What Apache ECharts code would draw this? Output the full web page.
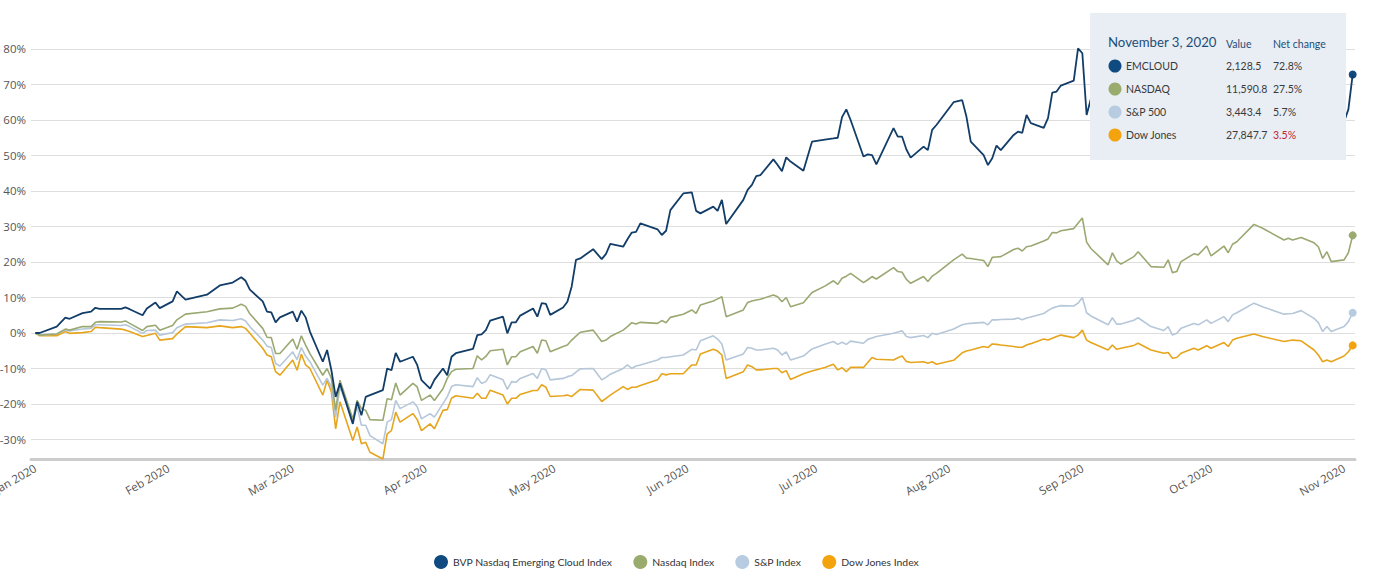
<!DOCTYPE html>
<html><head><meta charset="utf-8">
<script src="https://cdn.jsdelivr.net/npm/echarts@6/dist/echarts.min.js"></script>
<style>html,body{margin:0;padding:0;background:#fff}#c{width:1400px;height:578px}</style>
</head><body><div id="c"></div>
<script>
// ---- data (percent change since start of 2020) ----
const dates = [
'2020-01-01','2020-01-02','2020-01-06','2020-01-08','2020-01-09','2020-01-12','2020-01-14','2020-01-15','2020-01-16','2020-01-21','2020-01-22','2020-01-23','2020-01-26','2020-01-27','2020-01-29','2020-01-30',
'2020-02-02','2020-02-03','2020-02-05','2020-02-10','2020-02-13','2020-02-16','2020-02-18','2020-02-19','2020-02-20','2020-02-23','2020-02-24','2020-02-25','2020-02-26','2020-02-27',
'2020-03-01','2020-03-02','2020-03-03','2020-03-04','2020-03-05','2020-03-08','2020-03-09','2020-03-10','2020-03-11','2020-03-12','2020-03-15','2020-03-16','2020-03-17','2020-03-18','2020-03-19','2020-03-22','2020-03-23','2020-03-24','2020-03-25','2020-03-26','2020-03-29','2020-03-30','2020-03-31',
'2020-04-02','2020-04-03','2020-04-05','2020-04-06','2020-04-07','2020-04-08','2020-04-12','2020-04-13','2020-04-14','2020-04-15','2020-04-16','2020-04-19','2020-04-20','2020-04-21','2020-04-22','2020-04-23','2020-04-26','2020-04-27','2020-04-28','2020-04-29','2020-04-30',
'2020-05-03','2020-05-04','2020-05-05','2020-05-06','2020-05-07','2020-05-10','2020-05-12','2020-05-13','2020-05-14','2020-05-17','2020-05-18','2020-05-19','2020-05-20','2020-05-21','2020-05-25','2020-05-26','2020-05-27','2020-05-28','2020-05-31',
'2020-06-02','2020-06-03','2020-06-04','2020-06-07','2020-06-08','2020-06-09','2020-06-10','2020-06-14','2020-06-15','2020-06-16','2020-06-17','2020-06-18','2020-06-21','2020-06-22','2020-06-23','2020-06-24','2020-06-25','2020-06-28','2020-06-30',
'2020-07-03','2020-07-05','2020-07-06','2020-07-07','2020-07-08','2020-07-09','2020-07-12','2020-07-13','2020-07-14','2020-07-15','2020-07-19','2020-07-20','2020-07-21','2020-07-22','2020-07-23','2020-07-26','2020-07-27','2020-07-28','2020-07-29',
'2020-08-02','2020-08-04','2020-08-05','2020-08-06','2020-08-09','2020-08-10','2020-08-11','2020-08-12','2020-08-13','2020-08-16','2020-08-17','2020-08-18','2020-08-19','2020-08-20','2020-08-23','2020-08-24','2020-08-25','2020-08-26','2020-08-27','2020-08-30','2020-08-31',
'2020-09-01','2020-09-02','2020-09-03','2020-09-07','2020-09-08','2020-09-09','2020-09-10','2020-09-13','2020-09-14','2020-09-17','2020-09-20','2020-09-21','2020-09-22','2020-09-23','2020-09-24','2020-09-27','2020-09-28','2020-09-30',
'2020-10-01','2020-10-04','2020-10-05','2020-10-06','2020-10-07','2020-10-11','2020-10-13','2020-10-18','2020-10-19','2020-10-20','2020-10-22','2020-10-25','2020-10-26','2020-10-27','2020-10-28','2020-10-29',
'2020-11-01','2020-11-02','2020-11-03'
];
const emcloud = [
0,0,1.8,4.3,4.0,5.6,6.0,7.1,6.8,6.8,7.2,6.7,5.0,6.9,8.6,7.0,
8.9,11.7,9.4,10.8,13.4,14.2,15.7,14.7,12.2,8.9,6.0,5.8,3.0,4.4,
6.0,3.2,6.3,4.4,0.4,-8.1,-4.8,-10.5,-18.0,-14.2,-25.6,-19.4,-23.2,-18.0,-17.5,-16.1,-10.0,-10.5,-5.6,-8.1,-6.7,-9.0,-13.3,
-15.7,-13.2,-10.0,-11.9,-6.7,-5.7,-4.5,-0.6,-0.4,0.8,3.5,4.6,-0.1,3.0,3.0,4.9,6.9,4.6,8.4,8.2,5.1,
7.2,8.8,13.1,20.6,21.0,23.6,20.8,22.3,25.1,24.3,26.4,28.3,28.5,30.9,29.2,27.6,28.8,34.6,39.3,
39.6,34.4,33.7,35.6,34.4,37.5,30.7,37.5,40.3,41.7,44.2,44.5,48.9,47.3,45.6,49.5,48.3,45.7,53.9,
54.5,54.8,55.0,60.8,63.0,60.0,49.7,50.3,50.1,47.5,57.7,55.3,55.3,51.7,49.4,52.5,51.5,57.2,58.6,
65.0,65.6,60.9,53.9,50.1,47.3,49.2,52.8,51.5,55.8,56.7,56.4,61.4,59.1,57.8,60.5,67.7,68.0,69.7,71.1,80.2,
78.8,61.4,66,57,63,59,57.5,61,64,56,55.5,59.5,52.5,53,58.5,63,62.3,67,
61.7,67.2,63.4,68,69.5,79,77,70.5,71.4,70.5,71.8,68.8,66.7,60.3,64,58.5,
59.5,63,72.8
];
const nasdaq = [
0,-0.6,-0.3,1.1,0.8,1.8,1.8,3.0,3.2,3.1,3.4,2.7,0.7,1.8,2.2,0.8,
2.1,3.7,5.3,6.0,6.8,7.0,8.1,7.5,5.4,1.3,-1.2,-1.3,-5.8,-5.8,
-1.7,-4.6,-0.8,-3.4,-5.8,-11.9,-10.0,-12.8,-21.8,-13.3,-24.2,-19.0,-21.3,-21.8,-24.4,-24.6,-18.5,-18.8,-14.1,-17.5,-14.2,-15.2,-19.0,
-17.5,-19.0,-15.7,-12.8,-10.9,-10.2,-10.0,-6.4,-7.6,-6.6,-5.0,-4.6,-9.0,-6.7,-6.7,-5.3,-3.8,-5.7,-2.0,-2.2,-5.3,
-3.8,-3.4,-2.0,-0.9,0.2,0.8,-2.4,-2.0,-1.0,0.8,1.8,2.9,2.5,3.0,2.7,3.5,2.9,4.4,5.3,
6.5,5.5,7.9,9.0,9.6,10.2,4.6,6.5,8.6,9.0,9.3,9.5,10.7,10.2,8.8,10.0,7.4,8.5,11.4,
13.2,14.7,13.7,15.4,16.0,16.8,14.2,15.0,15.9,15.2,18.4,17.3,17.1,15.1,14.0,15.9,14.5,16.0,16.8,
20.6,22.2,21.1,21.0,20.4,18.7,21.3,21.4,21.5,23.5,23.9,23.1,24.3,24.5,25.9,26.5,28.3,28.2,28.8,29.4,30.9,
32.4,25.6,23.8,19.2,22.6,20.3,19.4,21.5,22.9,18.7,18.5,20.6,17.0,17.3,20.1,22.3,22.0,24.5,
21.7,24.5,22.6,25.0,25.7,30.6,29.5,26.2,26.7,26.2,26.9,25.4,24.3,21.0,22.9,20.1,
20.6,22.6,27.5
];
const sp500 = [
0,-0.6,-0.3,0.8,0.6,1.1,1.3,2.3,2.3,2.1,2.3,1.8,-0.1,0.7,0.8,-0.6,
0.1,1.5,2.5,2.9,3.7,3.5,4.0,3.4,1.8,-2.0,-3.7,-4.1,-8.6,-9.3,
-5.3,-7.5,-4.1,-6.5,-8.1,-14.7,-12.8,-15.2,-23.7,-15.2,-24.6,-20.8,-26.0,-26.0,-28.9,-31.2,-25.1,-24.4,-19.0,-21.3,-19.4,-20.8,-24.2,
-22.7,-23.7,-19.9,-18.0,-15.1,-14.6,-15.1,-12.6,-14.2,-13.7,-11.8,-13.2,-15.9,-13.7,-13.9,-12.8,-11.4,-12.8,-10.0,-10.4,-13.2,
-12.8,-12.3,-12.0,-11.0,-10.1,-10.0,-13.2,-12.5,-11.6,-10.0,-9.0,-10.0,-9.3,-9.0,-7.6,-6.9,-6.9,-6.7,-6.2,
-4.6,-4.8,-2.2,-0.8,-1.7,-3.1,-7.6,-5.9,-4.1,-4.3,-4.8,-4.8,-4.3,-4.8,-6.2,-5.3,-7.6,-6.5,-4.5,
-3.2,-2.4,-3.2,-2.6,-3.2,-2.3,-2.9,-1.8,-1.4,-1.0,-0.1,0.3,0.6,-1.0,-1.3,-0.7,-1.3,-0.1,-0.4,
1.1,2.3,2.6,2.7,3.0,2.3,3.7,3.7,3.8,3.9,4.2,3.7,4.2,4.5,5.5,6.3,7.0,7.4,7.7,7.6,8.4,
10.0,5.7,4.8,2.3,4.3,2.5,2.5,3.6,4.3,1.8,0.7,1.8,-0.6,-0.1,1.3,2.7,2.3,3.7,
2.7,4.6,3.2,5.1,5.7,8.4,7.4,5.3,5.4,5.5,6.3,4.1,2.9,0.4,1.8,0.4,
1.8,3.2,5.7
];
const dow = [
0,-0.8,-0.8,0.4,-0.1,0.1,0.4,1.6,1.5,1.1,0.8,0.4,-1.0,-0.7,-0.1,-2.0,
-1.6,-0.3,1.8,1.5,2.0,1.5,1.8,1.3,-0.1,-4.3,-6.2,-6.7,-10.9,-11.9,
-7.6,-10.5,-6.0,-9.0,-10.0,-17.5,-13.3,-16.6,-27.0,-19.4,-30.3,-26.5,-31.2,-30.8,-33.6,-35.5,-28.4,-27.5,-22.3,-25.1,-22.7,-24.4,-27.5,
-25.6,-27.0,-21.8,-21.6,-18.4,-17.7,-18.4,-17.0,-18.4,-18.4,-16.1,-17.5,-20.0,-18.4,-18.4,-17.3,-16.2,-16.2,-14.6,-15.3,-17.9,
-17.7,-17.5,-17.9,-16.9,-15.9,-16.1,-19.3,-18.4,-17.5,-15.1,-15.9,-15.3,-15.3,-14.8,-13.2,-11.5,-11.8,-11.5,-11.5,
-9.0,-9.0,-5.9,-4.6,-5.1,-6.2,-12.8,-10.9,-9.0,-9.5,-10.4,-10.4,-10.0,-10.0,-11.2,-10.6,-13.1,-11.5,-10.7,
-9.7,-8.8,-10.4,-9.8,-10.9,-9.7,-9.7,-8.3,-6.9,-7.4,-7.6,-7.0,-6.5,-8.0,-8.3,-8.1,-8.5,-8.1,-8.8,
-7.7,-5.6,-5.1,-4.8,-3.8,-4.1,-3.1,-3.2,-3.4,-3.8,-4.0,-4.0,-3.4,-3.0,-1.7,-2.0,-1.5,-1.0,-0.6,-1.3,-0.6,
0.8,-2.0,-2.7,-4.8,-3.4,-4.6,-4.3,-3.5,-2.9,-4.8,-5.7,-5.5,-7.1,-6.9,-5.7,-4.3,-4.8,-3.6,
-4.3,-2.7,-3.8,-2.0,-1.5,-0.3,-1.0,-2.4,-2.2,-2.0,-2.2,-4.8,-6.2,-8.1,-7.6,-8.1,
-6.5,-5.3,-3.5
];
const seriesNames = ['BVP Nasdaq Emerging Cloud Index', 'Nasdaq Index', 'S&P Index', 'Dow Jones Index'];
const tickLabels = ['Jan 2020','Feb 2020','Mar 2020','Apr 2020','May 2020','Jun 2020','Jul 2020','Aug 2020','Sep 2020','Oct 2020','Nov 2020'];
const tipTitle = 'November 3, 2020';
const tipNames = ['EMCLOUD', 'NASDAQ', 'S&P 500', 'Dow Jones'];
const tipValues = ['2,128.5', '11,590.8', '3,443.4', '27,847.7'];

// ---- styling ----
const lineColors = ['#123d68', '#9aa872', '#b5c7d9', '#e6a51c'];
const dotColors  = ['#0f4a80', '#9aab6e', '#b7cce0', '#f2a30e'];
const allSeries = [emcloud, nasdaq, sp500, dow];
const DAY = 86400000;

const chart = echarts.init(document.getElementById('c'), null, {renderer: 'svg'});

const series = allSeries.map((vals, k) => {
  const last = vals.length - 1;
  return {
    name: seriesNames[k],
    type: 'line',
    data: dates.map((d, i) => [d, vals[i]]),
    showSymbol: false,
    symbol: 'circle',
    z: 6 - k,
    lineStyle: {color: lineColors[k], width: k === 0 ? 1.8 : 1.6},
    itemStyle: {color: dotColors[k]},
    emphasis: {disabled: true},
    markPoint: {
      symbol: 'circle', symbolSize: 8, silent: true,
      label: {show: false},
      itemStyle: {color: dotColors[k]},
      data: [{coord: [dates[last], vals[last]]}]
    }
  };
});

// tooltip-like info box
const box = {x: 1090, y: 13, w: 256, h: 147};
const font = 'Lato, "Open Sans", sans-serif';
const elements = [
  {type: 'rect', shape: {x: box.x, y: box.y, width: box.w, height: box.h}, style: {fill: '#e9eef4'}},
  {type: 'text', x: 1108, y: 42, style: {text: tipTitle, fill: '#1d4d79', fontSize: 13.2, fontFamily: font, verticalAlign: 'middle'}},
  {type: 'text', x: 1226, y: 43.5, style: {text: 'Value', fill: '#1d4d79', fontSize: 10.5, fontFamily: font, verticalAlign: 'middle'}},
  {type: 'text', x: 1273, y: 43.5, style: {text: 'Net change', fill: '#1d4d79', fontSize: 10.5, fontFamily: font, verticalAlign: 'middle'}}
];
allSeries.forEach((vals, k) => {
  const cy = 66 + k * 23;
  const chg = vals[vals.length - 1];
  elements.push(
    {type: 'circle', shape: {cx: 1115, cy: cy, r: 6.5}, style: {fill: dotColors[k]}},
    {type: 'text', x: 1126, y: cy, style: {text: tipNames[k], fill: '#3a3a3a', fontSize: 10.5, fontFamily: font, verticalAlign: 'middle'}},
    {type: 'text', x: 1226, y: cy, style: {text: tipValues[k], fill: '#3a3a3a', fontSize: 10.5, fontFamily: font, verticalAlign: 'middle'}},
    {type: 'text', x: 1273, y: cy, style: {text: Math.abs(chg).toFixed(1) + '%', fill: chg < 0 ? '#c0272d' : '#3a3a3a', fontSize: 10.5, fontFamily: font, verticalAlign: 'middle'}}
  );
});

chart.setOption({
  animation: false,
  backgroundColor: '#ffffff',
  grid: {left: 31, right: 45, top: 34.8, bottom: 119, containLabel: false, outerBoundsMode: 'none'},
  legend: {
    data: seriesNames,
    left: 429, top: 550,
    icon: 'circle', itemWidth: 14, itemHeight: 14, itemGap: 21,
    textStyle: {fontFamily: font, fontSize: 10.4, color: '#333'},
    selectedMode: false
  },
  xAxis: {
    type: 'time',
    min: +new Date(2019, 11, 31),
    max: +new Date(2020, 10, 3, 13),
    splitNumber: 11,
    minInterval: 28 * DAY,
    maxInterval: 31 * DAY,
    axisLine: {onZero: false, lineStyle: {color: '#cccccc', width: 3}},
    axisTick: {show: false},
    splitLine: {show: false},
    axisLabel: {
      rotate: 30,
      margin: 8,
      color: '#555',
      fontFamily: '"Open Sans", sans-serif',
      fontSize: 11.5,
      hideOverlap: false,
      formatter: function (v) { return tickLabels[new Date(v).getMonth()]; }
    }
  },
  yAxis: {
    type: 'value',
    min: -35.5, max: 84, splitNumber: 12,
    axisLine: {show: false},
    axisTick: {show: false},
    splitLine: {lineStyle: {color: '#dedede', width: 1}, showMinLine: false, showMaxLine: false},
    axisLabel: {
      showMinLabel: false, showMaxLabel: false,
      margin: 5, color: '#555',
      fontFamily: '"Open Sans", sans-serif', fontSize: 11.5,
      formatter: '{value}%'
    }
  },
  series: series,
  graphic: {elements: elements.map(e => Object.assign({z: 100}, e))}
});
</script>
</body></html>
